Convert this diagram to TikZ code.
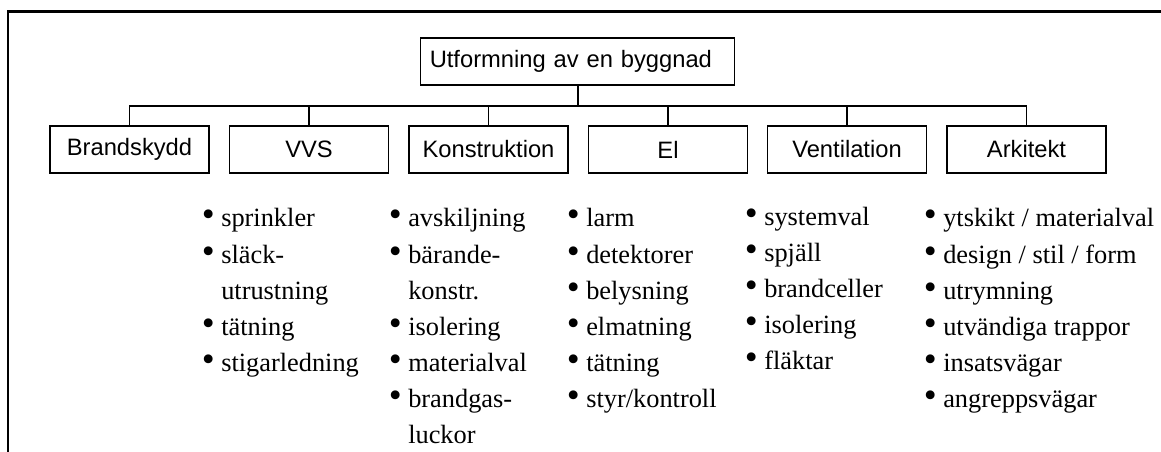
\documentclass[tikz,border=0pt]{standalone}
\usepackage{fontspec}
\setmainfont{Liberation Serif}
\newfontfamily\boxfont{Liberation Sans}
\usepackage{tikz}
\newcommand{\itemfont}{\fontsize{15}{20.5}\selectfont}
\newcommand{\bul}{{\fontsize{21}{20}\selectfont\textbullet}}

\begin{document}
\begin{tikzpicture}[
  area/.style={draw,line width=0.8pt,minimum width=3.18cm,minimum height=0.94cm,inner sep=0pt,font=\boxfont\fontsize{13.5}{16}\selectfont},
  list/.style={anchor=base west,inner sep=0pt,font=\itemfont},
  link/.style={line width=1pt}]
\useasboundingbox (0,0) rectangle (23.22,9.04);
\draw[line width=1.5pt] (0.16,0) -- (0.16,8.806) -- (23.22,8.806);
\node[area,text width=5.92cm,inner xsep=0.18cm,align=left] (byggnad) at (11.555,7.81) {Utformning av en byggnad};
\node[area] (brandskydd) at (2.59,6.05) {Brandskydd};
\node[area] (vvs) at (6.18,6.05) {VVS};
\node[area] (konstruktion) at (9.77,6.05) {Konstruktion};
\node[area] (el) at (13.36,6.05) {El};
\node[area] (ventilation) at (16.94,6.05) {Ventilation};
\node[area] (arkitekt) at (20.53,6.05) {Arkitekt};
\coordinate (bus) at (11.555,6.92);
\draw[link] (byggnad.south) -- (bus);
\draw[link] (brandskydd.north) |- (bus) -| (arkitekt.north);
\foreach \n in {vvs,konstruktion,el,ventilation}
  \draw[link] (\n.north) -- (\n.north |- bus);
\node[list] (vvsList) at (4.03,4.5) {\begin{tabular}[t]{@{}l@{\hspace{3.7pt}}l@{}}
\bul & sprinkler\\
\bul & släck-\\
 & utrustning\\
\bul & tätning\\
\bul & stigarledning
\end{tabular}};
\node[list] (konstruktionList) at (7.77,4.5) {\begin{tabular}[t]{@{}l@{\hspace{3.7pt}}l@{}}
\bul & avskiljning\\
\bul & bärande-\\
 & konstr.\\
\bul & isolering\\
\bul & materialval\\
\bul & brandgas-\\
 & luckor
\end{tabular}};
\node[list] (elList) at (11.33,4.5) {\begin{tabular}[t]{@{}l@{\hspace{3.7pt}}l@{}}
\bul & larm\\
\bul & detektorer\\
\bul & belysning\\
\bul & elmatning\\
\bul & tätning\\
\bul & styr/kontroll
\end{tabular}};
\node[list] (ventilationList) at (14.89,4.53) {\begin{tabular}[t]{@{}l@{\hspace{3.7pt}}l@{}}
\bul & systemval\\
\bul & spjäll\\
\bul & brandceller\\
\bul & isolering\\
\bul & fläktar
\end{tabular}};
\node[list] (arkitektList) at (18.47,4.5) {\begin{tabular}[t]{@{}l@{\hspace{3.7pt}}l@{}}
\bul & ytskikt / materialval\\
\bul & design / stil / form\\
\bul & utrymning\\
\bul & utvändiga trappor\\
\bul & insatsvägar\\
\bul & angreppsvägar
\end{tabular}};
\end{tikzpicture}
\end{document}
